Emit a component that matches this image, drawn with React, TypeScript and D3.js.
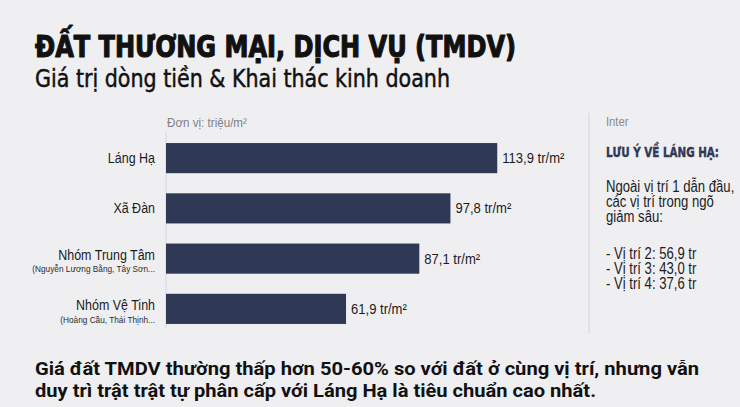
import { useMemo } from 'react';
import type { ReactNode } from 'react';
import * as d3 from 'd3';

const WIDTH = 740;
const HEIGHT = 407;
const BG = '#efeff2';
const BAR = '#2f3956';
const COND = '"DejaVu Sans Condensed", "DejaVu Sans", sans-serif';
const SANS = '"Liberation Sans", Arial, sans-serif';
const BOLD_SANS = 'Roboto, "Liberation Sans", sans-serif';

const categories = ['Láng Hạ', 'Xã Đàn', 'Nhóm Trung Tâm', 'Nhóm Vệ Tinh'];
const subLabels = ['', '', '(Nguyễn Lương Bằng, Tây Sơn...', '(Hoàng Cầu, Thái Thịnh...'];
const values = [113.9, 97.8, 87.1, 61.9];
const noteBody = ['Ngoài vị trí 1 dẫn đầu,', 'các vị trí trong ngõ', 'giảm sâu:'];
const noteList = ['- Vị trí 2: 56,9 tr', '- Vị trí 3: 43,0 tr', '- Vị trí 4: 37,6 tr'];

const PLOT = { left: 166, right: 515, top: 133, bottom: 334 };

const fmt = (v: number) => v.toFixed(1).replace('.', ',');

// text squeezed horizontally to mimic the condensed face of the original
function CText({
  x, y, sx = 0.86, size, anchor = 'start', fill = '#222', weight = 400, family = SANS, children,
}: {
  x: number; y: number; sx?: number; size: number; anchor?: string; fill?: string;
  weight?: number; family?: string; children: ReactNode;
}) {
  return (
    <text
      transform={`translate(${x},${y}) scale(${sx},1)`}
      textAnchor={anchor}
      fontFamily={family}
      fontSize={size}
      fontWeight={weight}
      fill={fill}
    >
      {children}
    </text>
  );
}

export default function App() {
  const { x, y } = useMemo(() => {
    const x = d3.scaleLinear().domain([0, 120]).range([PLOT.left, PLOT.right]);
    const y = d3
      .scaleBand<string>()
      .domain(categories)
      .range([PLOT.top, PLOT.bottom])
      .paddingInner(0.4)
      .paddingOuter(0.2);
    return { x, y };
  }, []);

  return (
    <svg
      width={WIDTH}
      height={HEIGHT}
      viewBox={`0 0 ${WIDTH} ${HEIGHT}`}
      style={{ position: 'absolute', left: 0, top: 0, display: 'block' }}
    >
      <rect width={WIDTH} height={HEIGHT} fill={BG} />

      {/* Title block */}
      <text x={35} y={57} fontFamily={COND} fontWeight={700} fontSize={30} fill="#111"
        stroke="#111" strokeWidth={1.1} strokeLinejoin="round"
        textLength={481} lengthAdjust="spacingAndGlyphs">
        ĐẤT THƯƠNG MẠI, DỊCH VỤ (TMDV)
      </text>
      <text x={35} y={87} fontFamily={COND} fontSize={24} fill="#111"
        stroke="#111" strokeWidth={0.45}
        textLength={415} lengthAdjust="spacingAndGlyphs">
        Giá trị dòng tiền &amp; Khai thác kinh doanh
      </text>

      {/* Unit */}
      <CText x={PLOT.left + 1} y={127} size={12.5} sx={0.93} fill="#808085">
        Đơn vị: triệu/m²
      </CText>

      {/* Axis line */}
      <line x1={PLOT.left} x2={PLOT.left} y1={132} y2={328} stroke="#d6d6da" strokeWidth={1} />

      {/* Bars */}
      {categories.map((c, i) => {
        const y0 = y(c) ?? 0;
        const bh = y.bandwidth();
        const cy = y0 + bh / 2;
        const sub = subLabels[i];
        return (
          <g key={c}>
            <rect x={x(0)} y={y0} width={x(values[i]) - x(0)} height={bh} fill={BAR} />
            <CText x={x(values[i]) + 5} y={cy + 5} size={15} sx={0.87} fill="#1c1c1c">
              {fmt(values[i])} tr/m²
            </CText>
            <CText x={155} y={sub ? cy + 1.5 : cy + 5} size={14.5} sx={0.86} anchor="end" fill="#1c1c1c">
              {c}
            </CText>
            {sub && (
              <CText x={155} y={cy + 13.7} size={9} sx={0.92} anchor="end" fill="#2a2a2a">
                {sub}
              </CText>
            )}
          </g>
        );
      })}

      {/* Side note */}
      <line x1={589} x2={589} y1={113} y2={334} stroke="#d6d6da" strokeWidth={1} />
      <CText x={606} y={126} size={12.5} sx={0.9} fill="#8a8a8f">Inter</CText>
      <text x={606} y={157} fontFamily={COND} fontWeight={700} fontSize={14} fill={BAR}
        stroke={BAR} strokeWidth={0.4}
        textLength={113} lengthAdjust="spacingAndGlyphs">
        LƯU Ý VỀ LÁNG HẠ:
      </text>
      {noteBody.map((t, i) => (
        <CText key={t} x={606} y={192 + i * 15} size={16} sx={0.82} fill="#1c1c1c">{t}</CText>
      ))}
      {noteList.map((t, i) => (
        <CText key={t} x={606} y={259 + i * 15} size={16} sx={0.82} fill="#1c1c1c">{t}</CText>
      ))}

      {/* Footer */}
      <text x={35} y={375} fontFamily={BOLD_SANS} fontWeight={700} fontSize={17.5} fill="#111"
        textLength={664} lengthAdjust="spacingAndGlyphs">
        Giá đất TMDV thường thấp hơn 50-60% so với đất ở cùng vị trí, nhưng vẫn
      </text>
      <text x={35} y={397} fontFamily={BOLD_SANS} fontWeight={700} fontSize={17.5} fill="#111"
        textLength={561} lengthAdjust="spacingAndGlyphs">
        duy trì trật trật tự phân cấp với Láng Hạ là tiêu chuẩn cao nhất.
      </text>
    </svg>
  );
}
